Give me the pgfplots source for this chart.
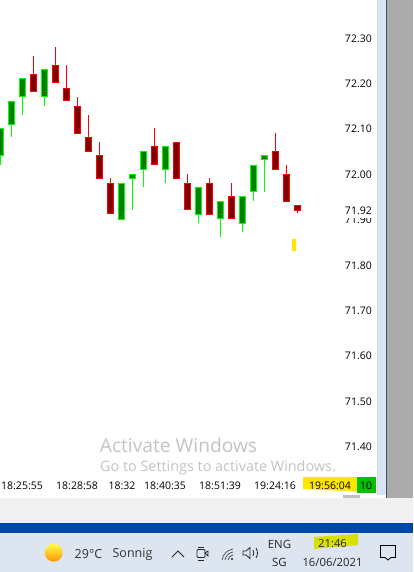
\documentclass[border=0pt]{standalone}
\usepackage{fontspec}
\setmainfont{Open Sans}
\usepackage{pgfplots}
\pgfplotsset{compat=1.18}

\definecolor{upline}{RGB}{0,255,0}
\definecolor{upbody}{RGB}{0,128,0}
\definecolor{dnline}{RGB}{255,0,0}
\definecolor{dnbody}{RGB}{128,0,0}
\definecolor{tagyellow}{RGB}{255,230,0}
\definecolor{taggreen}{RGB}{0,192,0}
\definecolor{scalestrip}{RGB}{214,228,243}
\definecolor{sidegray}{RGB}{171,171,171}
\definecolor{panel}{RGB}{240,240,240}
\definecolor{bluebar}{RGB}{0,72,168}
\definecolor{taskbar}{RGB}{221,229,240}
\definecolor{wmark}{RGB}{196,196,196}
\definecolor{marker}{RGB}{216,224,0}

% colour stem (up/dn), x, low, bottom of body, top of body, high
\newcommand{\candle}[6]{%
  \pgfmathsetmacro{\xl}{#2-3}\pgfmathsetmacro{\xr}{#2+3}%
  \addplot[draw=#1line, line width=1pt] coordinates {(#2,#3) (#2,#6)};
  \addplot[draw=#1line, fill=#1body, line width=1pt] coordinates {(\xl,#4) (\xr,#4) (\xr,#5) (\xl,#5)} -- cycle;
}

\begin{document}
\begin{tikzpicture}[x=1pt,y=1pt]
\path[use as bounding box] (0,0) rectangle (413,572);
\begin{axis}[at={(0pt,77pt)}, anchor=south west, scale only axis, width=377pt, height=495pt,
  xmin=0, xmax=377, ymin=71.2911, ymax=72.3829, axis on top,
  axis line style={draw=none}, major tick length=0pt,
  axis background/.style={fill=white},
  ytick={71.4,71.5,71.6,71.7,71.8,71.9,71.92,72.0,72.1,72.2,72.3},
  yticklabel pos=right,
  yticklabel style={anchor=east, xshift=-5pt, yshift=-1pt, fill=white, inner xsep=0pt, inner ysep=3pt, font=\fontsize{10.5}{12}\selectfont,
    /pgf/number format/fixed, /pgf/number format/precision=2, /pgf/number format/fixed zerofill, /pgf/number format/assume math mode=true},
  xtick={22,77,122,165,220,275,330,366},
  xticklabels={18:25:55,18:28:58,18:32,18:40:35,18:51:39,19:24:16,19:56:04,10},
  xticklabel style={anchor=center, yshift=9.5pt, font=\fontsize{10.5}{12}\selectfont},
]
% price tags under the time labels
\addplot[fill=tagyellow, draw=none] coordinates {(303,71.3309) (357,71.3309) (357,71.2985) (303,71.3044)} -- cycle;
\addplot[fill=taggreen, draw=none] coordinates {(357,71.3309) (376,71.3309) (376,71.2962) (357,71.2962)} -- cycle;

\candle{up}{0.33}{72.020}{72.041}{72.099}{72.099}
\candle{up}{11.33}{72.081}{72.109}{72.158}{72.158}
\candle{up}{22.33}{72.130}{72.169}{72.209}{72.209}
\candle{dn}{33.33}{72.180}{72.180}{72.218}{72.259}
\candle{up}{44.33}{72.150}{72.169}{72.229}{72.229}
\candle{dn}{55.33}{72.200}{72.200}{72.238}{72.279}
\candle{dn}{66.33}{72.161}{72.161}{72.187}{72.240}
\candle{dn}{77.33}{72.089}{72.089}{72.147}{72.169}
\candle{dn}{88.33}{72.049}{72.049}{72.079}{72.129}
\candle{dn}{99.33}{71.990}{71.990}{72.039}{72.070}
\candle{dn}{110.33}{71.911}{71.911}{71.978}{71.990}
\candle{up}{121.33}{71.899}{71.899}{71.978}{71.978}
\candle{up}{132.33}{71.920}{71.990}{71.997}{71.997}
\candle{up}{143.33}{71.971}{72.010}{72.048}{72.048}
\candle{dn}{154.33}{72.019}{72.019}{72.059}{72.101}
\candle{up}{165.33}{71.980}{72.010}{72.059}{72.059}
\candle{dn}{176.33}{71.990}{71.990}{72.068}{72.068}
\candle{dn}{187.33}{71.920}{71.920}{71.978}{71.999}
\candle{up}{198.33}{71.892}{71.910}{71.969}{71.969}
\candle{dn}{209.33}{71.910}{71.910}{71.978}{71.990}
\candle{up}{220.33}{71.861}{71.900}{71.938}{71.938}
\candle{dn}{231.33}{71.900}{71.900}{71.949}{71.979}
\candle{up}{242.33}{71.872}{71.891}{71.949}{71.949}
\candle{up}{253.33}{71.940}{71.960}{72.017}{72.017}
\candle{up}{264.33}{71.960}{72.030}{72.039}{72.039}
\candle{dn}{275.33}{72.010}{72.010}{72.048}{72.090}
\candle{dn}{286.33}{71.939}{71.939}{71.997}{72.019}
\candle{dn}{297.33}{71.912}{71.919}{71.929}{71.929}
% bid marker
\addplot[fill=tagyellow, draw=none] coordinates {(291.67,71.856) (295.67,71.856) (295.67,71.829) (291.67,71.829)} -- cycle;
\end{axis}

% window frame and taskbar, in pixel coordinates
\begin{axis}[at={(0pt,0pt)}, anchor=south west, scale only axis, width=413pt, height=572pt,
  xmin=0, xmax=413, ymin=0, ymax=572, y dir=reverse, hide axis, clip=false]
\fill[scalestrip] (axis cs:378,0) rectangle (axis cs:386,495);
\fill[sidegray] (axis cs:387,0) rectangle (axis cs:413,498);
\fill[black!70] (axis cs:386,0) rectangle (axis cs:387,498);
\fill[black!15] (axis cs:377,0) rectangle (axis cs:378,495);
\fill[white] (axis cs:0,495) rectangle (axis cs:386,498);
\fill[black!25] (axis cs:343,495) rectangle (axis cs:360,498);
\fill[panel] (axis cs:0,498) rectangle (axis cs:413,523);
\fill[bluebar] (axis cs:0,523) rectangle (axis cs:413,533);
\fill[taskbar] (axis cs:0,533) rectangle (axis cs:413,572);

\node[wmark, font=\fontsize{19.2}{21}\selectfont] at (axis cs:178.5,445.5) {Activate Windows};
\node[wmark, font=\fontsize{14.4}{16}\selectfont] at (axis cs:218,468) {Go to Settings to activate Windows.};

% weather
\shade[top color=yellow!70!white, bottom color=orange!85!yellow] (axis cs:53.7,552.7) circle (9pt);
\node[black!80, font=\fontsize{12.5}{14}\selectfont] at (axis cs:88.5,554) {29°C};
\node[black!80, font=\fontsize{12.5}{14}\selectfont] at (axis cs:132.5,554) {Sonnig};
% tray icons
\draw[black!85, line width=1pt] (axis cs:172,557) -- (axis cs:178,551) -- (axis cs:184,557);
\draw[black!85, line width=.8pt, rounded corners=1pt] (axis cs:197,549.5) rectangle (axis cs:205,557.5);
\draw[black!85, line width=.8pt] (axis cs:205,553) -- (axis cs:208,551) -- (axis cs:208,556) -- cycle;
\draw[black!85, line width=.8pt] (axis cs:198,547) -- (axis cs:204,547) (axis cs:198,560) -- (axis cs:204,560);
\fill[black!85] (axis cs:232,559) circle (1.2pt);
\draw[black!70, line width=.7pt] (axis cs:222,560) to[bend left=35] (axis cs:233,549);
\draw[black!70, line width=.7pt] (axis cs:225,560) to[bend left=35] (axis cs:233,552);
\draw[black!70, line width=.7pt] (axis cs:228,560) to[bend left=35] (axis cs:233,555);
\draw[black!85, line width=.8pt] (axis cs:243,551) -- (axis cs:246,551) -- (axis cs:250,547.5) -- (axis cs:250,558.5) -- (axis cs:246,555) -- (axis cs:243,555) -- cycle;
\draw[black!85, line width=.8pt] (axis cs:253,550) to[bend left=30] (axis cs:253,556);
\draw[black!85, line width=.8pt] (axis cs:256,548) to[bend left=30] (axis cs:256,558);
% clock
\node[black!85, font=\fontsize{11.4}{13}\selectfont] at (axis cs:279.5,544) {ENG};
\node[black!85, font=\fontsize{11.4}{13}\selectfont] at (axis cs:279.5,562) {SG};
\fill[marker] (axis cs:314,537) -- (axis cs:358,534) -- (axis cs:358,545) -- (axis cs:314,549) -- cycle;
\node[black!85, font=\fontsize{11.3}{13}\selectfont] at (axis cs:332.5,543) {21:46};
\node[black!85, font=\fontsize{11.3}{13}\selectfont] at (axis cs:332.5,562) {16/06/2021};
\draw[black, line width=.8pt] (axis cs:380.5,545.5) -- (axis cs:395.5,545.5) -- (axis cs:395.5,557.5) -- (axis cs:391,557.5) -- (axis cs:388,560) -- (axis cs:385,557.5) -- (axis cs:380.5,557.5) -- cycle;
\end{axis}
\end{tikzpicture}
\end{document}
